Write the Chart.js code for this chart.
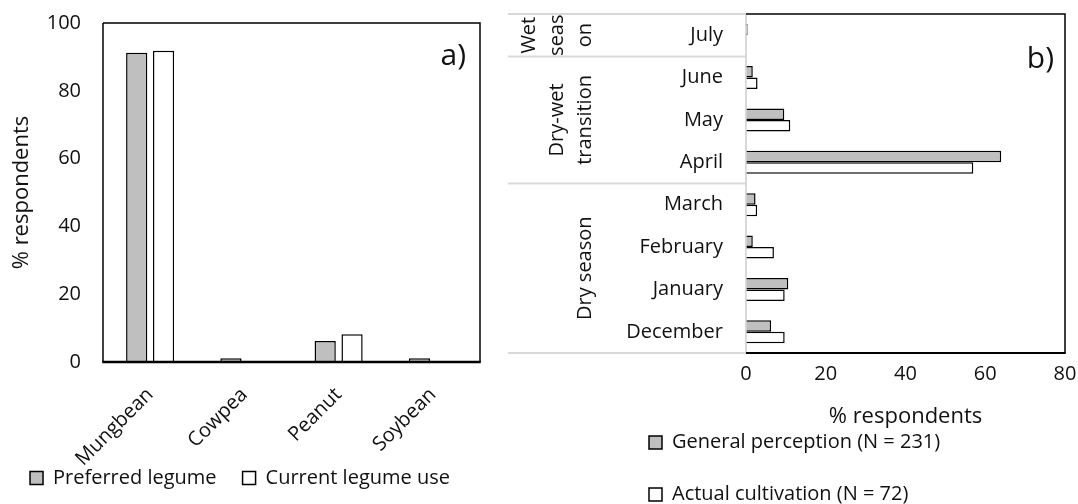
<!DOCTYPE html>
<html><head><meta charset="utf-8">
<script src="https://cdn.jsdelivr.net/npm/chart.js@4.4.1/dist/chart.umd.min.js"></script>
<style>
html,body{margin:0;padding:0;background:#fff;width:1078px;height:504px;overflow:hidden}
#wa{position:absolute;left:0;top:0;width:500px;height:504px}
#wb{position:absolute;left:500px;top:0;width:578px;height:504px}
</style></head><body>
<div id="wa"><canvas id="ca" width="500" height="504"></canvas></div>
<div id="wb"><canvas id="cb" width="578" height="504"></canvas></div>
<script>
// ---- Panel a) data ----
const legumes = ['Mungbean', 'Cowpea', 'Peanut', 'Soybean'];
const preferredLegume = [91.2, 1.1, 6.2, 1.1];
const currentLegumeUse = [91.8, 0, 8.2, 0];
const yTicksA = [0, 20, 40, 60, 80, 100];

// ---- Panel b) data ----
const months = ['July', 'June', 'May', 'April', 'March', 'February', 'January', 'December'];
const generalPerception = [0.4, 1.7, 9.6, 64.0, 2.4, 1.7, 10.6, 6.3];
const actualCultivation = [0, 2.9, 11.1, 57.0, 2.8, 7.0, 9.7, 9.7];
const xTicksB = [0, 20, 40, 60, 80];
const seasonLabels = [['Wet', 'seas', 'on'], ['Dry-wet', 'transition'], ['Dry season']];
const seasonSizes = [1, 3, 4];

const FONT = "'Open Sans', sans-serif";
const TXT = '#111111';
const GRAY = '#bfbfbf';
Chart.defaults.font.family = FONT;
Chart.defaults.color = TXT;

const hiddenTicks = (len) => ({display: true, drawOnChartArea: false, drawTicks: true, tickLength: len, color: 'rgba(0,0,0,0)'});

const panelLabel = {
  id: 'panelLabel',
  afterDraw(chart, args, o) {
    const {ctx, chartArea} = chart;
    ctx.save();
    ctx.font = o.size + 'px ' + FONT;
    ctx.fillStyle = TXT;
    ctx.textAlign = 'right';
    ctx.textBaseline = 'middle';
    ctx.fillText(o.text, chartArea.right - o.dx, o.y);
    ctx.restore();
  }
};

const legendShift = {
  id: 'legendShift',
  afterLayout(chart, args, o) {
    const l = chart.legend;
    if (l && o.dy) { l.top -= o.dy; l.bottom -= o.dy; }
  }
};

const frame = {
  id: 'frame',
  beforeDatasetsDraw(chart, args, o) {
    const {ctx, chartArea: a} = chart;
    if (o.leftColor) {
      ctx.save();
      ctx.strokeStyle = o.leftColor;
      ctx.lineWidth = 2;
      ctx.beginPath();
      ctx.moveTo(a.left, a.top);
      ctx.lineTo(a.left, a.bottom);
      ctx.stroke();
      ctx.restore();
    }
  },
  afterDatasetsDraw(chart, args, o) {
    const {ctx, chartArea: a} = chart;
    ctx.save();
    ctx.strokeStyle = '#000';
    ctx.lineWidth = o.w;
    ctx.beginPath();
    ctx.moveTo(a.left, a.top);
    ctx.lineTo(a.right, a.top);
    ctx.lineTo(a.right, a.bottom);
    ctx.stroke();
    if (!o.leftColor) {
      ctx.beginPath();
      ctx.moveTo(a.left, a.top);
      ctx.lineTo(a.left, a.bottom);
      ctx.stroke();
    }
    ctx.lineWidth = o.bw;
    ctx.beginPath();
    ctx.moveTo(a.left - (o.leftColor ? 0 : o.w / 2), a.bottom);
    ctx.lineTo(a.right + o.w / 2, a.bottom);
    ctx.stroke();
    ctx.restore();
  }
};

const seasonGroups = {
  id: 'seasonGroups',
  afterDraw(chart, args, o) {
    const ys = chart.scales.y;
    const ctx = chart.ctx;
    const step = (ys.bottom - ys.top) / months.length;
    const bounds = [0];
    let acc = 0;
    seasonSizes.forEach(s => { acc += s; bounds.push(acc); });
    ctx.save();
    ctx.strokeStyle = '#d9d9d9';
    ctx.lineWidth = 2;
    bounds.forEach(b => {
      const y = ys.getPixelForValue(b) - step / 2;
      ctx.beginPath();
      ctx.moveTo(o.x0, y);
      ctx.lineTo(chart.chartArea.left, y);
      ctx.stroke();
    });
    ctx.fillStyle = TXT;
    ctx.font = o.size + 'px ' + FONT;
    ctx.textAlign = 'center';
    ctx.textBaseline = 'middle';
    seasonLabels.forEach((lines, g) => {
      const yc = (ys.getPixelForValue(bounds[g]) + ys.getPixelForValue(bounds[g + 1] - 1)) / 2;
      lines.forEach((t, i) => {
        const xc = o.lastX - (lines.length - 1 - i) * o.lineGap;
        ctx.save();
        ctx.translate(xc, yc);
        ctx.rotate(-Math.PI / 2);
        ctx.fillText(t, 0, 0);
        ctx.restore();
      });
    });
    ctx.restore();
  }
};

new Chart(document.getElementById('ca'), {
  type: 'bar',
  data: {
    labels: legumes,
    datasets: [
      {label: 'Preferred legume', data: preferredLegume, backgroundColor: GRAY, borderColor: '#000', borderWidth: 1.5},
      {label: 'Current legume use', data: currentLegumeUse, backgroundColor: '#ffffff', borderColor: '#000', borderWidth: 1.5}
    ]
  },
  options: {
    responsive: false, animation: false, devicePixelRatio: 1,
    layout: {padding: {top: 23, right: 20, left: 0, bottom: -17}},
    datasets: {bar: {categoryPercentage: 0.57, barPercentage: 0.79}},
    scales: {
      x: {
        grid: hiddenTicks(21), border: {display: false},
        ticks: {font: {size: 20}, color: TXT, maxRotation: 45, minRotation: 45, padding: 0, autoSkip: false},
        afterFit(s) { s.height = 103; }
      },
      y: {
        min: 0, max: 100,
        afterBuildTicks(s) { s.ticks = yTicksA.map(v => ({value: v})); },
        ticks: {font: {size: 20}, color: TXT, padding: 0},
        grid: hiddenTicks(22), border: {display: false},
        title: {display: true, text: '% respondents', font: {size: 22}, color: TXT, padding: {top: 9, bottom: 0}},
        afterFit(s) { s.width = 103; }
      }
    },
    plugins: {
      legend: {position: 'bottom', labels: {font: {size: 20}, color: TXT, boxWidth: 13, boxHeight: 13, padding: 26}},
      tooltip: {enabled: false},
      legendShift: {dy: 23},
      panelLabel: {text: 'a)', dx: 14, y: 56, size: 30},
      frame: {w: 1.5, bw: 2.5}
    }
  },
  plugins: [panelLabel, frame, legendShift]
});

new Chart(document.getElementById('cb'), {
  type: 'bar',
  data: {
    labels: months,
    datasets: [
      {label: 'General perception (N = 231)', data: generalPerception, backgroundColor: GRAY, borderColor: '#000', borderWidth: 1.5},
      {label: 'Actual cultivation (N = 72)', data: actualCultivation, backgroundColor: '#ffffff', borderColor: '#000', borderWidth: 1.5}
    ]
  },
  options: {
    indexAxis: 'y',
    responsive: false, animation: false, devicePixelRatio: 1,
    layout: {padding: {left: 117, top: 14, right: 13, bottom: -10.5}},
    datasets: {bar: {categoryPercentage: 0.54, barPercentage: 1.0}},
    scales: {
      x: {
        min: 0, max: 80,
        afterBuildTicks(s) { s.ticks = xTicksB.map(v => ({value: v})); },
        ticks: {font: {size: 20}, color: TXT, padding: 0},
        grid: hiddenTicks(9), border: {display: false},
        title: {display: true, text: '% respondents', font: {size: 22}, color: TXT, padding: {top: 0, bottom: -29}},
        afterFit(s) { s.height = 47.5; }
      },
      y: {
        ticks: {font: {size: 20}, color: TXT, padding: 0, autoSkip: false},
        grid: hiddenTicks(23), border: {display: false},
        afterFit(s) { s.width = 129; }
      }
    },
    plugins: {
      legend: {position: 'bottom', align: 'start', labels: {font: {size: 20}, color: TXT, boxWidth: 13, boxHeight: 13, padding: 32}},
      tooltip: {enabled: false},
      panelLabel: {text: 'b)', dx: 11, y: 59, size: 30},
      frame: {w: 1.5, bw: 2, leftColor: '#d9d9d9'},
      seasonGroups: {x0: 8, lastX: 85, lineGap: 28, size: 20}
    }
  },
  plugins: [panelLabel, frame, seasonGroups]
});
</script>
</body></html>
